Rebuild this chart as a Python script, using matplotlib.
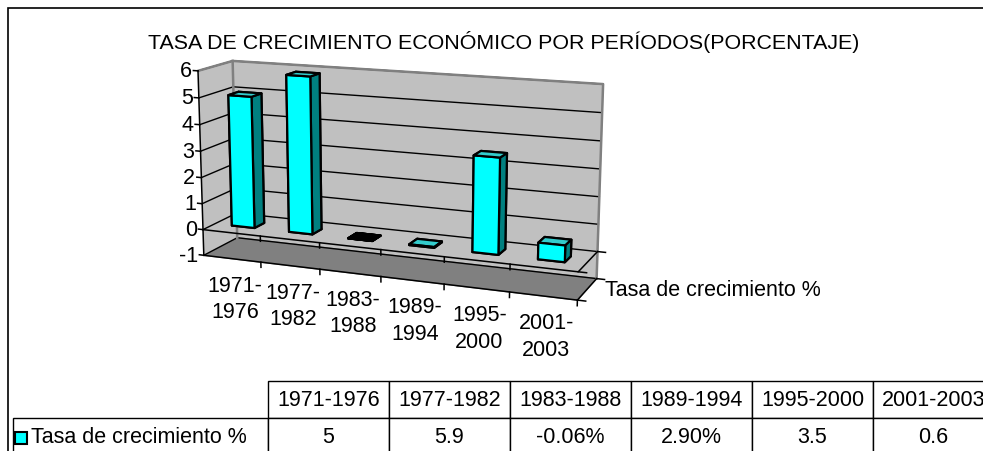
import numpy as np
import matplotlib
matplotlib.use("Agg")
import matplotlib.pyplot as plt
from matplotlib.patches import Rectangle
from matplotlib.table import Table
from mpl_toolkits.mplot3d import proj3d

plt.rcParams["font.family"] = ["Liberation Sans", "DejaVu Sans"]

# datos
periodos = ["1971-1976", "1977-1982", "1983-1988", "1989-1994", "1995-2000", "2001-2003"]
tasa = [5, 5.9, -0.0006, 0.029, 3.5, 0.6]
tasa_txt = ["5", "5.9", "-0.06%", "2.90%", "3.5", "0.6"]
serie = "Tasa de crecimiento %"
titulo = "TASA DE CRECIMIENTO ECONÓMICO POR PERÍODOS(PORCENTAJE)"
z_ticks = list(range(-1, 7))

W, H = 983, 452
FS = 15.5
fig = plt.figure(figsize=(W / 100, H / 100), dpi=100)

# ---- 3D column chart ----
S0 = 420
ax = fig.add_axes([150 / W, 20 / H, S0 / W, S0 / H], projection="3d",
                  computed_zorder=False)
ax.set_facecolor("none")
n = len(tasa)
ax.set_xlim(0, n)
ax.set_ylim(0, 1)
ax.set_zlim(-1, 6)
ax.set_box_aspect((4.47, 0.82, 2.17))
ax.view_init(elev=13, azim=-68)
ax.set_proj_type("persp", focal_length=0.6)

ax.xaxis.set_pane_color("#c0c0c0")
ax.yaxis.set_pane_color("#c0c0c0")
ax.zaxis.set_pane_color("#808080")
for a in (ax.xaxis, ax.yaxis, ax.zaxis):
    a.line.set_linewidth(0)
ax.set_xticks([])
ax.set_yticks([])
ax.set_zticks([])

# gridlines on left and back wall
for v in z_ticks:
    ax.plot([0, 0, n], [0, 1, 1], [v, v, v], color="black", lw=1.0, zorder=1)
# wall outline
g = dict(color="#808080", lw=1.8, zorder=1.5)
ax.plot([0, 0, n, n], [0, 1, 1, 1], [6, 6, 6, -1], **g)
ax.plot([0, 0], [1, 1], [-1, 6], **g)

# bars
face = ["black", "#33cccc", "#00ffff", "#008080", "#008080", "#008080"]
ax.bar3d(np.arange(n) + 0.3, np.full(n, 0.35), np.zeros(n), 0.4, 0.3, tasa,
         color=face * n, shade=False, edgecolor="black", linewidth=1.6, zorder=3)

# axes lines and ticks
k = dict(color="black", lw=1.1, zorder=4)
ax.plot([0, 0], [0, 0], [-1, 6], **k)
ax.plot([0, n, n], [0, 0, 1], [0, 0, 0], **k)
ax.plot([0, n, n], [0, 0, 1], [-1, -1, -1], **k)
for v in z_ticks:
    ax.plot([-0.08, 0], [0, 0], [v, v], **k)
for i in range(1, n):
    ax.plot([i, i], [0, 0], [0, -0.2], **k)
for i in range(1, n + 1):
    ax.plot([i, i], [0, 0], [-1, -1.2], **k)
for zv in (0, -1):
    for yv in (0, 1):
        ax.plot([n, n + 0.12], [yv, yv], [zv, zv], **k)

# place the box where it sits in the reference (least squares on corners)
fig.canvas.draw()


def px(x, y, z):
    u, v, _ = proj3d.proj_transform(np.atleast_1d(np.asarray(x, float)),
                                    np.atleast_1d(np.asarray(y, float)),
                                    np.atleast_1d(np.asarray(z, float)), ax.M)
    return ax.transData.transform(np.column_stack([u, v]))


cx = [0, 0, 0, n, n, n, 0, 0, n]
cy = [0, 0, 1, 1, 0, 0, 0, 1, 1]
cz = [-1, 6, 6, 6, -1, 0, 0, -1, -1]
tgt = np.array([[203, 257], [203, 70], [232, 62], [599, 85], [580, 302],
                [580, 273], [203, 230], [234, 239], [596, 280]], float)
tgt[:, 1] = H - tgt[:, 1]
cur = px(cx, cy, cz)
cc = cur - cur.mean(0)
tc = tgt - tgt.mean(0)
sc = (cc * tc).sum() / (cc * cc).sum()
pos = ax.get_position()
S = pos.width * W
o = np.array([pos.x0 * W, pos.y0 * H])
m = (cur.mean(0) - o) / S
S2 = S * sc
o2 = tgt.mean(0) - m * S2
ax.set_position([o2[0] / W, o2[1] / H, S2 / W, S2 / H])
fig.canvas.draw()

# axis texts, placed at the projected positions
for v in z_ticks:
    p = px(0, 0, v)[0]
    fig.text((p[0] - 6) / W, p[1] / H, str(v), ha="right", va="center", fontsize=FS)
for i, lab_ in enumerate(periodos):
    p = px(i + 0.5, 0, -1)[0]
    fig.text((p[0] + 3) / W, (p[1] - 16) / H, lab_.replace("-", "-\n"), ha="center",
             va="top", linespacing=1.35, fontsize=FS)
p = px(n, 0.5, -1)[0]
fig.text((p[0] + 18) / W, p[1] / H, serie, ha="left", va="center", fontsize=FS)

# ---- title, border ----
fig.text(504 / W, 1 - 42 / H, titulo, ha="center", va="center", fontsize=15.4)
fig.add_artist(Rectangle((8 / W, -0.1), 1.2, 1.1 - 9 / H, fill=False,
                         ec="black", lw=1.2, transform=fig.transFigure))

# ---- data table ----
tax = fig.add_axes([0, 0, 1, 1])
tax.axis("off")
cw, lw_, ch = 121 / W, 255 / W, 37 / H
tab = Table(tax, bbox=[268 / W, -4 / H, 6 * cw, 2 * ch])
for j, p in enumerate(periodos):
    tab.add_cell(0, j, width=cw, height=ch, text=p, loc="center")
    tab.add_cell(1, j, width=cw, height=ch, text=tasa_txt[j], loc="center")
lab = tab.add_cell(1, -1, width=lw_, height=ch, text=serie, loc="left")
lab.PAD = 0.07
tab.auto_set_font_size(False)
tab.set_fontsize(FS)
tab.set_clip_on(False)
tax.add_table(tab)
fig.add_artist(Rectangle((15 / W, (H - 445) / H), 12 / W, 12 / H, fc="#00ffff",
                         ec="black", lw=1.5, transform=fig.transFigure, zorder=10))

fig.savefig("out.png", dpi=100)
